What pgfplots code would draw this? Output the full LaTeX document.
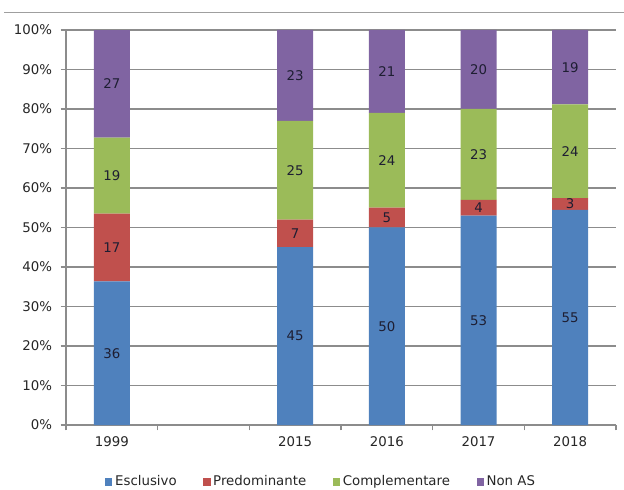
\documentclass[border=0pt]{standalone}
\usepackage{fontspec}
\setmainfont{DejaVu Sans}
\usepackage{pgfplots}
\usepackage{pgfplotstable}
\pgfplotsset{compat=1.18}

\definecolor{cEsc}{HTML}{4F81BD}
\definecolor{cPre}{HTML}{C0504D}
\definecolor{cCom}{HTML}{9BBB59}
\definecolor{cNon}{HTML}{8064A2}
\definecolor{gridgray}{HTML}{8C8C8C}
\definecolor{labeltxt}{HTML}{1E1E32}

% raw shares per year; T is the row total used to scale each column to 100%
\pgfplotstableread{
x E P C N T
0 36 17 19 27 99
2 45 7 25 23 100
3 50 5 24 21 100
4 53 4 23 20 100
5 55 3 24 19 101
}\shares

\pgfplotsset{
  frame/.style={
    at={(49.5pt,48pt)}, anchor=south west,
    scale only axis, width=412.5pt, height=296.25pt,
    xmin=-0.5, xmax=5.5, ymin=0, ymax=100,
    /pgf/number format/assume math mode=true,
  },
}

\begin{document}
\begin{tikzpicture}
\useasboundingbox (0,0) rectangle (468pt,366.75pt);
\draw[color=gray!75, line width=1pt] (3pt,357.6pt) -- (468pt,357.6pt);

\begin{axis}[
  frame,
  ybar stacked, bar width=27pt,
  axis x line*=bottom, axis y line*=left,
  axis line style={draw=gridgray, line width=0.8pt},
  every tick/.style={draw=gridgray, line width=0.8pt},
  tick align=outside, major tick length=4pt,
  xtick={-0.5,0.5,1.5,2.5,3.5,4.5,5.5},
  x tick label as interval,
  xticklabels={1999,,2015,2016,2017,2018},
  ytick={0,10,...,100},
  yticklabel={\pgfmathprintnumber{\tick}\%},
  ymajorgrids, grid style={draw=gridgray, line width=0.8pt},
  tick label style={font=\fontsize{10}{12}\selectfont, text=black!85},
  xticklabel style={yshift=-1.5pt},
  yticklabel style={xshift=-3pt},
  legend image code/.code={\fill[#1] (0pt,-2.8pt) rectangle (5.4pt,2.6pt);},
  legend columns=4,
  legend style={at={(0.4645,-0.144)}, anchor=center, draw=none, fill=none,
    font=\fontsize{10}{12}\selectfont, text=black!85,
    /tikz/every even column/.append style={column sep=18pt},
    inner sep=0pt},
]
\addplot[fill=cEsc, draw=none] table[x=x, y expr=\thisrow{E}*100/\thisrow{T}] {\shares};
\addlegendentry{Esclusivo}
\addplot[fill=cPre, draw=none] table[x=x, y expr=\thisrow{P}*100/\thisrow{T}] {\shares};
\addlegendentry{Predominante}
\addplot[fill=cCom, draw=none] table[x=x, y expr=\thisrow{C}*100/\thisrow{T}] {\shares};
\addlegendentry{Complementare}
\addplot[fill=cNon, draw=none] table[x=x, y expr=\thisrow{N}*100/\thisrow{T}] {\shares};
\addlegendentry{Non AS}
\end{axis}

% value labels at the middle of each segment
\begin{axis}[
  frame, hide axis,
  nodes near coords={\pgfmathprintnumber{\pgfplotspointmeta}},
  point meta=explicit,
  every node near coord/.append style={anchor=center, inner sep=0pt,
    font=\fontsize{10}{12}\selectfont, text=labeltxt},
]
\addplot[draw=none, mark=none] table[x=x, meta=E,
  y expr=\thisrow{E}*50/\thisrow{T}] {\shares};
\addplot[draw=none, mark=none] table[x=x, meta=P,
  y expr=(\thisrow{E}+\thisrow{P}/2)*100/\thisrow{T}] {\shares};
\addplot[draw=none, mark=none] table[x=x, meta=C,
  y expr=(\thisrow{E}+\thisrow{P}+\thisrow{C}/2)*100/\thisrow{T}] {\shares};
\addplot[draw=none, mark=none] table[x=x, meta=N,
  y expr=(\thisrow{E}+\thisrow{P}+\thisrow{C}+\thisrow{N}/2)*100/\thisrow{T}] {\shares};
\end{axis}
\end{tikzpicture}
\end{document}
